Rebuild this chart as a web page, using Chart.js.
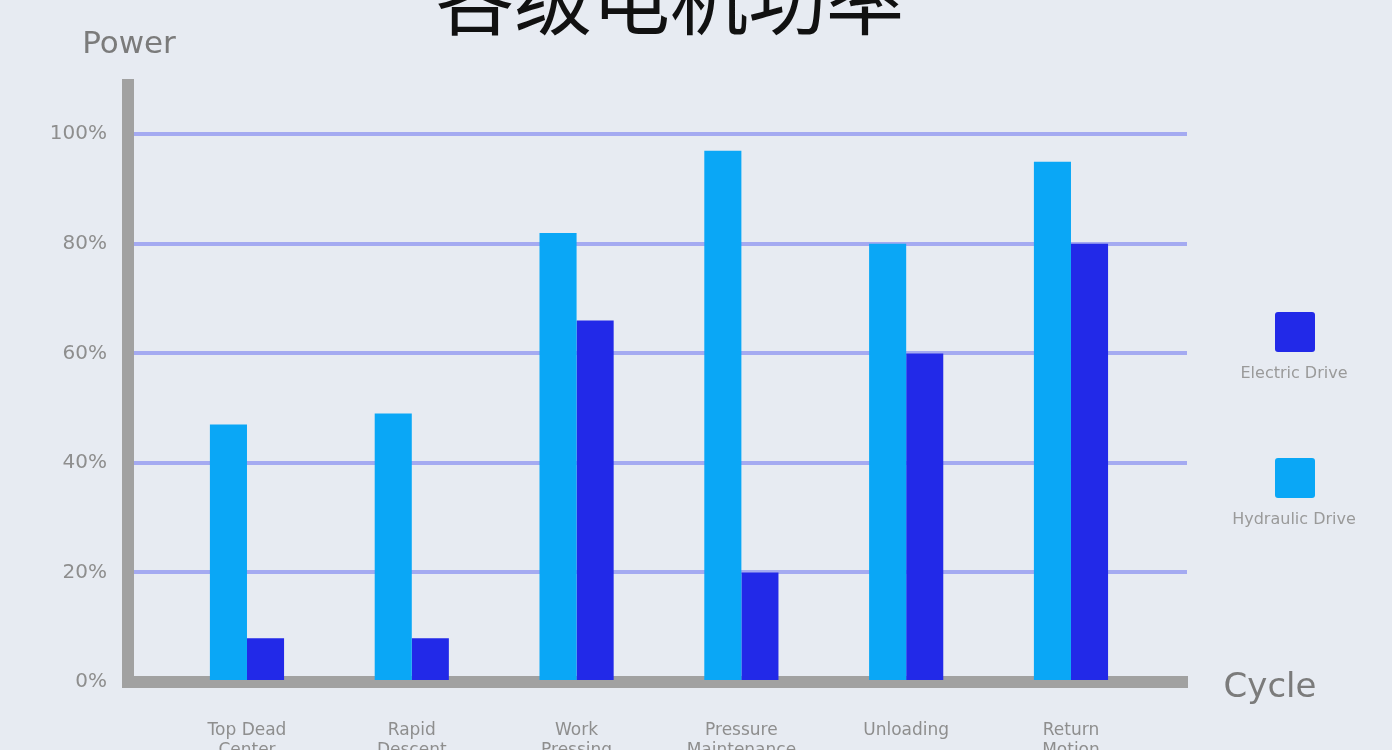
<!DOCTYPE html>
<html>
<head>
<meta charset="utf-8">
<title>各级电机功率</title>
<script src="https://cdn.jsdelivr.net/npm/chart.js@4.4.1/dist/chart.umd.min.js"></script>
<style>
  html, body { margin: 0; padding: 0; background: #e7ebf2; overflow: hidden; }
  #wrap { position: relative; width: 1392px; height: 750px; }
</style>
</head>
<body>
<div id="wrap"><canvas id="powerChart"></canvas></div>
<script>
// chart data
const chartTitle = "各级电机功率";
const categories = [["Top Dead", "Center"], ["Rapid", "Descent"], ["Work", "Pressing"],
                    ["Pressure", "Maintenance"], ["Unloading"], ["Return", "Motion"]];
const hydraulicValues = [47, 49, 82, 97, 80, 95];
const electricValues = [8, 8, 66, 20, 60, 80];
const yTickStep = 20;

const hydraulicColor = "#0aa7f6";
const electricColor = "#2229e8";
const textGray = "#8e8e8e";
const axisGray = "#a1a1a1";

// extra text + legend on the right
const decorPlugin = {
	id: "decor",
	afterDraw(chart) {
		const ctx = chart.ctx;
		ctx.save();
		ctx.textAlign = "center";

		// title (cut at top in the original)
		ctx.fillStyle = "#111111";
		ctx.font = "78px 'Noto Sans CJK SC'";
		ctx.textBaseline = "alphabetic";
		ctx.fillText(chartTitle, 670, 29);

		// axis names
		ctx.fillStyle = "#7b7b7b";
		ctx.textBaseline = "middle";
		ctx.font = "31px 'DejaVu Sans'";
		ctx.fillText("Power", 129, 45);
		ctx.font = "34px 'DejaVu Sans'";
		ctx.fillText("Cycle", 1270, 688);

		// legend: electric on top, hydraulic below
		const items = [chart.data.datasets[1], chart.data.datasets[0]];
		items.forEach(function (ds, i) {
			const top = 312 + i * 146;
			ctx.fillStyle = ds.backgroundColor;
			ctx.beginPath();
			ctx.roundRect(1275, top, 40, 40, 3);
			ctx.fill();
			ctx.fillStyle = "#9a9a9a";
			ctx.font = "16px 'DejaVu Sans'";
			ctx.fillText(ds.label, 1294, top + 62);
		});
		ctx.restore();
	}
};

const ctx = document.getElementById("powerChart").getContext("2d");
const powerChart = new Chart(ctx, {
	type: "bar",
	data: {
		datasets: [
			{
				label: "Hydraulic Drive",
				data: hydraulicValues.map((v, i) => ({ x: i, y: v })),
				backgroundColor: hydraulicColor
			},
			{
				label: "Electric Drive",
				data: electricValues.map((v, i) => ({ x: i, y: v })),
				backgroundColor: electricColor
			}
		]
	},
	options: {
		responsive: true,
		maintainAspectRatio: false,
		animation: false,
		categoryPercentage: 0.45,
		barPercentage: 1.0,
		layout: { padding: { top: 85, right: 205, left: 0, bottom: 0 } },
		plugins: {
			legend: { display: false },
			tooltip: { enabled: false },
			title: { display: false }
		},
		scales: {
			x: {
				type: "linear",
				min: -0.722,
				max: 5.704,
				offset: false,
				z: 1,
				afterBuildTicks: function (scale) {
					scale.ticks = categories.map((c, i) => ({ value: i }));
				},
				afterFit: function (scale) { scale.height = 68; },
				grid: { display: false, drawTicks: false, offset: false },
				border: { display: true, color: axisGray, width: 12 },
				ticks: {
					autoSkip: false,
					maxRotation: 0,
					padding: 38,
					color: textGray,
					font: { family: "DejaVu Sans", size: 17 },
					callback: function (value) { return categories[value]; }
				}
			},
			y: {
				min: 0,
				max: 109,
				afterFit: function (scale) { scale.width = 128; },
				grid: { color: "#a4aaf1", lineWidth: 4, drawTicks: false },
				border: { display: true, color: axisGray, width: 12 },
				ticks: {
					stepSize: yTickStep,
					includeBounds: false,
					padding: 21,
					color: textGray,
					font: { family: "DejaVu Sans", size: 20 },
					callback: function (value) { return value + "%"; }
				}
			}
		}
	},
	plugins: [decorPlugin]
});
</script>
</body>
</html>
